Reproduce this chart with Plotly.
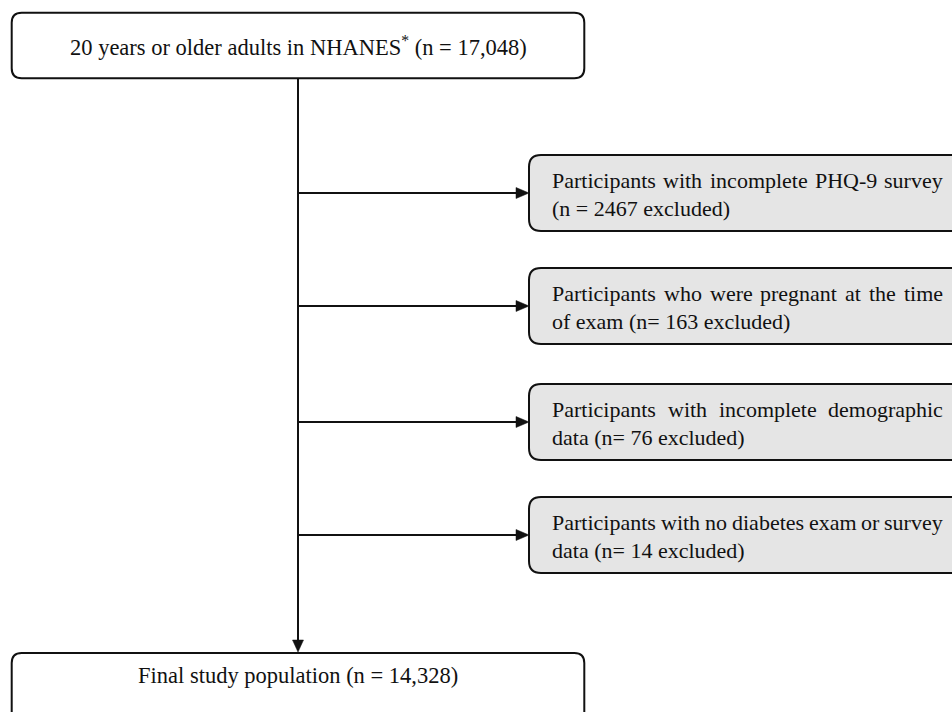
import plotly.graph_objects as go

# ---------------- data ----------------
top_label = "20 years or older adults in NHANES<sup>*</sup> (n = 17,048)"
final_label = "Final study population (n = 14,328)"
excl_line1 = [
    "Participants with incomplete PHQ-9 survey",
    "Participants who were pregnant at the time",
    "Participants with incomplete demographic",
    "Participants with no diabetes exam or survey",
]
excl_line2 = [
    "(n = 2467 excluded)",
    "of exam (n= 163 excluded)",
    "data (n= 76 excluded)",
    "data (n= 14 excluded)",
]

# ---------------- layout constants ----------------
W, H = 952, 712
FONT = "Liberation Serif"
FS = 22
INK = "#111111"
GREY = "#e5e5e5"
LW = 2

SPINE_X = 298
TOP_BOX = (11.7, 12.7, 584.3, 78.3)
FINAL_BOX = (11.7, 653, 584.3, 722)
RX0, RX1 = 529, 975
R_TOPS = [155, 268, 384, 497]
R_H = 76
TXT_L, TXT_R = 551, 942

# Times metrics (per 1000 em) for justification
TW = {" ": 250, "(": 333, ")": 333, "-": 333, "=": 564, ",": 250, ".": 250,
      "a": 444, "b": 500, "c": 444, "d": 500, "e": 444, "f": 333, "g": 500, "h": 500,
      "i": 278, "j": 278, "k": 500, "l": 278, "m": 778, "n": 500, "o": 500, "p": 500,
      "q": 500, "r": 333, "s": 389, "t": 278, "u": 500, "v": 500, "w": 722, "x": 500,
      "y": 500, "z": 444, "P": 556, "H": 722, "Q": 722}
for d in "0123456789":
    TW[d] = 500


def wwidth(word):
    return sum(TW.get(ch, 500) for ch in word) * FS / 1000.0


def rrect(x0, y0, x1, y1, r=10):
    return (f"M{x0+r},{y0} L{x1-r},{y0} Q{x1},{y0} {x1},{y0+r} "
            f"L{x1},{y1-r} Q{x1},{y1} {x1-r},{y1} L{x0+r},{y1} "
            f"Q{x0},{y1} {x0},{y1-r} L{x0},{y0+r} Q{x0},{y0} {x0+r},{y0} Z")


shapes = []
annotations = []

# main boxes
for box, fill in [(TOP_BOX, "white"), (FINAL_BOX, "white")]:
    shapes.append(dict(type="path", path=rrect(*box), xref="x", yref="y",
                       fillcolor=fill, line=dict(color=INK, width=LW), layer="above"))

annotations.append(dict(x=SPINE_X, y=(TOP_BOX[1] + TOP_BOX[3]) / 2, text=top_label,
                        showarrow=False, xanchor="center", yanchor="middle",
                        font=dict(family=FONT, size=22.5, color=INK)))
annotations.append(dict(x=SPINE_X, y=675, text=final_label,
                        showarrow=False, xanchor="center", yanchor="middle",
                        font=dict(family=FONT, size=22.5, color=INK)))

# spine
tip_y = FINAL_BOX[1] - 1
shapes.append(dict(type="line", x0=SPINE_X, x1=SPINE_X, y0=TOP_BOX[3], y1=tip_y - 10,
                   xref="x", yref="y", line=dict(color=INK, width=LW)))
shapes.append(dict(type="path", xref="x", yref="y",
                   path=f"M{SPINE_X-5.5},{tip_y-12} L{SPINE_X+5.5},{tip_y-12} L{SPINE_X},{tip_y} Z",
                   fillcolor=INK, line=dict(color=INK, width=0.5)))

# exclusion boxes
for top, l1, l2 in zip(R_TOPS, excl_line1, excl_line2):
    y0, y1 = top, top + R_H
    ym = (y0 + y1) / 2
    shapes.append(dict(type="path", path=rrect(RX0, y0, RX1, y1, 12), xref="x", yref="y",
                       fillcolor=GREY, line=dict(color=INK, width=LW)))
    # arrow
    shapes.append(dict(type="line", x0=SPINE_X, x1=RX0 - 10, y0=ym, y1=ym,
                       xref="x", yref="y", line=dict(color=INK, width=LW)))
    shapes.append(dict(type="path", xref="x", yref="y",
                       path=f"M{RX0-13},{ym-5.5} L{RX0-13},{ym+5.5} L{RX0},{ym} Z",
                       fillcolor=INK, line=dict(color=INK, width=0.5)))
    # justified first line
    words = l1.split()
    widths = [wwidth(w) for w in words]
    gap = (TXT_R - TXT_L - sum(widths)) / (len(words) - 1)
    x = TXT_L
    for w, wd in zip(words, widths):
        annotations.append(dict(x=x, y=ym - 13, text=w, showarrow=False,
                                xanchor="left", yanchor="middle", borderpad=0,
                                font=dict(family=FONT, size=FS, color=INK)))
        x += wd + gap
    annotations.append(dict(x=TXT_L, y=ym + 15, text=l2, showarrow=False,
                            xanchor="left", yanchor="middle", borderpad=0,
                            font=dict(family=FONT, size=FS, color=INK)))

fig = go.Figure()
fig.update_layout(
    width=W, height=H,
    margin=dict(l=0, r=0, t=0, b=0),
    paper_bgcolor="white", plot_bgcolor="white",
    xaxis=dict(range=[0, W], visible=False, fixedrange=True),
    yaxis=dict(range=[H, 0], visible=False, fixedrange=True),
    shapes=shapes, annotations=annotations, showlegend=False,
)
fig.write_html("out.html", config=dict(displayModeBar=False),
               post_script="document.body.style.margin='0';document.body.style.overflow='hidden';")
